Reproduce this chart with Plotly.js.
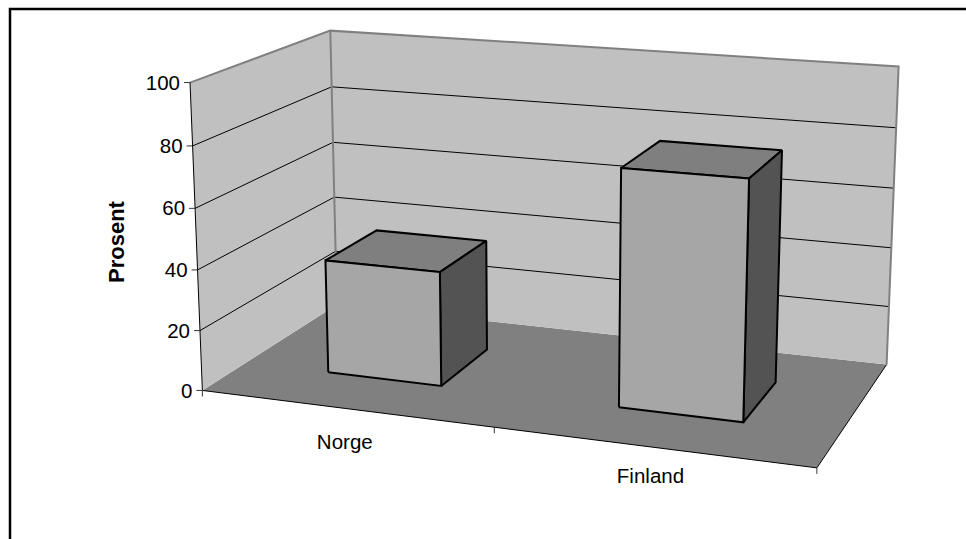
<!DOCTYPE html>
<html><head><meta charset="utf-8">
<script src="https://cdn.plot.ly/plotly-3.0.1.min.js"></script>
<style>html,body{margin:0;padding:0;background:#fff}#c{width:966px;height:539px}</style>
</head><body><div id="c"></div>
<script>
// ---- data ----
const categories = ['Norge', 'Finland'];
const values = [38, 76.7];
const valueTicks = [0, 20, 40, 60, 80, 100];
const axisTitle = 'Prosent';
// ---- bar geometry in chart units ----
const barSpan = 0.4;   // share of a category's width
const depthRange = [0.3, 0.7];
const yMax = 100;
// ---- camera: 7 corners of the chart box and where they land on the page ----
const boxCorners = [
  [0,0,0, 202.3,390.3],[1,0,0, 816.7,468.3],[1,1,0, 886.7,364],[0,1,0, 337,305],
  [0,0,1, 190.3,82.3],[0,1,1, 330,30.7],[1,1,1, 898.7,66.7]
];
function solve(A,b){
  const n=b.length, M=A.map((r,i)=>r.concat(b[i]));
  for(let i=0;i<n;i++){
    let p=i; for(let r=i+1;r<n;r++) if(Math.abs(M[r][i])>Math.abs(M[p][i])) p=r;
    [M[i],M[p]]=[M[p],M[i]];
    for(let r=0;r<n;r++){ if(r===i) continue; const f=M[r][i]/M[i][i];
      for(let c=i;c<=n;c++) M[r][c]-=f*M[i][c]; }
  }
  return M.map((r,i)=>r[n]/r[i]);
}
const rows=[],rhs=[];
boxCorners.forEach(([X,Y,Z,u,v])=>{
  rows.push([X,Y,Z,1,0,0,0,0,-u*X,-u*Y,-u*Z]); rhs.push(u);
  rows.push([0,0,0,0,X,Y,Z,1,-v*X,-v*Y,-v*Z]); rhs.push(v);
});
const AtA=Array.from({length:11},(_,i)=>Array.from({length:11},(_,j)=>rows.reduce((s,r)=>s+r[i]*r[j],0)));
const Atb=Array.from({length:11},(_,i)=>rows.reduce((s,r,k)=>s+r[i]*rhs[k],0));
const P=solve(AtA,Atb);
function proj(x,d,val){
  const z=val/yMax, w=P[8]*x+P[9]*d+P[10]*z+1;
  return [(P[0]*x+P[1]*d+P[2]*z+P[3])/w,(P[4]*x+P[5]*d+P[6]*z+P[7])/w];
}
const traces=[];
function path(pts,line,fill){
  const q=pts.map(p=>proj(p[0],p[1],p[2]));
  const t={x:q.map(p=>p[0]),y:q.map(p=>p[1]),mode:'lines',hoverinfo:'skip',showlegend:false,
    line:line||{width:0,color:'rgba(0,0,0,0)'}};
  if(fill){t.fill='toself';t.fillcolor=fill;t.x.push(t.x[0]);t.y.push(t.y[0]);}
  traces.push(t);
}
const GREY={color:'#808080',width:2}, THIN={color:'#000',width:1}, BAR={color:'#000',width:2};
// floor and walls
path([[0,0,0],[1,0,0],[1,1,0],[0,1,0]],null,'#808080');
path([[0,1,0],[1,1,0],[1,1,yMax],[0,1,yMax]],null,'#C0C0C0');
path([[0,0,0],[0,1,0],[0,1,yMax],[0,0,yMax]],null,'#C0C0C0');
// gridlines
valueTicks.slice(1,-1).forEach(v=>path([[0,0,v],[0,1,v],[1,1,v]],THIN));
// wall edges
path([[0,0,yMax],[0,1,yMax],[1,1,yMax],[1,1,0]],GREY);
path([[0,1,yMax],[0,1,0]],GREY);
path([[0,0,0],[0,0,yMax]],THIN);
path([[0,0,0],[1,0,0],[1,1,0]],THIN);
// bars
values.forEach((v,i)=>{
  const n=categories.length, x0=(i+0.5-barSpan/2)/n, x1=(i+0.5+barSpan/2)/n, [d0,d1]=depthRange;
  path([[x0,d0,v],[x1,d0,v],[x1,d1,v],[x0,d1,v]],BAR,'#7F7F7F');
  path([[x1,d0,0],[x1,d1,0],[x1,d1,v],[x1,d0,v]],BAR,'#535353');
  path([[x0,d0,0],[x1,d0,0],[x1,d0,v],[x0,d0,v]],BAR,'#A6A6A6');
});
// ticks
valueTicks.forEach(v=>{
  const q=proj(0,0,v);
  traces.push({x:[q[0]-6,q[0]],y:[q[1],q[1]],mode:'lines',hoverinfo:'skip',showlegend:false,line:{color:'#333',width:1}});
});
[0,1,2].forEach(k=>{
  const q=proj(k/categories.length,0,0);
  traces.push({x:[q[0],q[0]],y:[q[1],q[1]+6],mode:'lines',hoverinfo:'skip',showlegend:false,line:{color:'#333',width:1}});
});
// tick labels
const fontFam='"Liberation Sans", Arial, sans-serif';
const vp=valueTicks.map(v=>proj(0,0,v));
traces.push({x:vp.map(p=>p[0]-10),y:vp.map(p=>p[1]+2),text:valueTicks.map(String),mode:'text',textposition:'middle left',
  textfont:{family:fontFam,size:20.5,color:'#000'},hoverinfo:'skip',showlegend:false});
const cp=categories.map((c,i)=>proj((i+0.5)/categories.length,0,0));
const labelDrop=[35,31], labelShift=[0,-1];
traces.push({x:cp.map((p,i)=>p[0]+labelShift[i]),y:cp.map((p,i)=>p[1]+labelDrop[i]),text:categories,mode:'text',textposition:'middle center',
  textfont:{family:fontFam,size:20.5,color:'#000'},hoverinfo:'skip',showlegend:false});
// outer frame: only top and left edges are inside the picture
traces.push({x:[10,10,966],y:[539,9,9],mode:'lines',hoverinfo:'skip',showlegend:false,line:{color:'#000',width:2.5}});

const layout={
  width:966,height:539,margin:{l:0,r:0,t:0,b:0},paper_bgcolor:'#fff',plot_bgcolor:'#fff',showlegend:false,
  xaxis:{range:[0,966],visible:false,fixedrange:true},
  yaxis:{range:[539,0],visible:false,fixedrange:true},
  annotations:[{text:'<b>'+axisTitle+'</b>',x:116,y:242,xref:'x',yref:'y',textangle:-90,showarrow:false,
    font:{family:fontFam,size:22,color:'#000'}}]
};
Plotly.newPlot('c',traces,layout,{displayModeBar:false,staticPlot:true});
</script></body></html>
